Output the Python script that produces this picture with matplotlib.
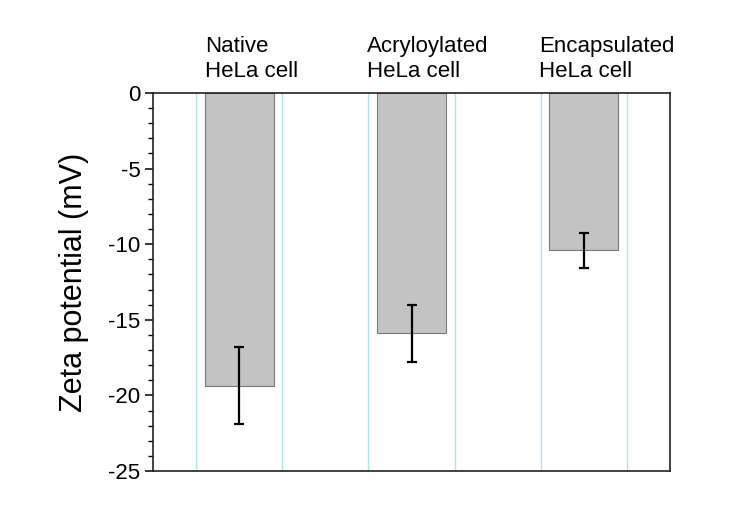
#!/usr/bin/env python3
import matplotlib
matplotlib.use("Agg")
import matplotlib.pyplot as plt
import matplotlib.transforms as mtransforms
from matplotlib.ticker import MultipleLocator

# data
categories = ["Native\nHeLa cell", "Acryloylated\nHeLa cell", "Encapsulated\nHeLa cell"]
zeta_mean = [-19.35, -15.9, -10.4]
zeta_err = [2.55, 1.9, 1.15]
label_offsets = [-0.2, -0.26, -0.26]  # where each label starts relative to bar centre


def main():
    plt.rcParams["font.family"] = ["Liberation Sans", "DejaVu Sans"]
    plt.rcParams["axes.unicode_minus"] = False

    fig = plt.figure(figsize=(7.49, 5.2), dpi=100)
    ax = fig.add_axes([0.2043, 0.0942, 0.6902, 0.727])

    x = list(range(1, len(categories) + 1))

    for xi in x:
        ax.axvline(xi - 0.25, color="#a6e9ee", lw=1.0, zorder=0)
        ax.axvline(xi + 0.25, color="#a6e9ee", lw=1.0, zorder=0)

    ax.bar(x, zeta_mean, width=0.4, color="#c3c3c3", edgecolor="#7a7a7a",
           linewidth=0.8, zorder=2)
    ax.errorbar(x, zeta_mean, yerr=zeta_err, fmt="none", ecolor="black",
                elinewidth=1.6, capsize=3.5, capthick=1.6, zorder=3)

    ax.set_xlim(0.5, 3.5)
    ax.set_ylim(-25, 0)
    ax.yaxis.set_major_locator(MultipleLocator(5))
    ax.yaxis.set_minor_locator(MultipleLocator(1))
    ax.set_xticks([])
    ax.tick_params(axis="y", which="major", direction="out", length=6, width=1.1,
                   labelsize=16, pad=3)
    ax.tick_params(axis="y", which="minor", direction="out", length=3.5, width=1.0)

    for side in ["left", "right", "top", "bottom"]:
        ax.spines[side].set_linewidth(1.2)
        ax.spines[side].set_color("#222222")

    ax.set_ylabel("Zeta potential (mV)", fontsize=22, labelpad=14)

    trans = mtransforms.blended_transform_factory(ax.transData, ax.transAxes)
    for xi, lab, off in zip(x, categories, label_offsets):
        ax.text(xi + off, 1.03, lab, transform=trans, ha="left", va="bottom",
                fontsize=16, linespacing=1.2)

    fig.savefig("out.png", dpi=100)


if __name__ == "__main__":
    main()
